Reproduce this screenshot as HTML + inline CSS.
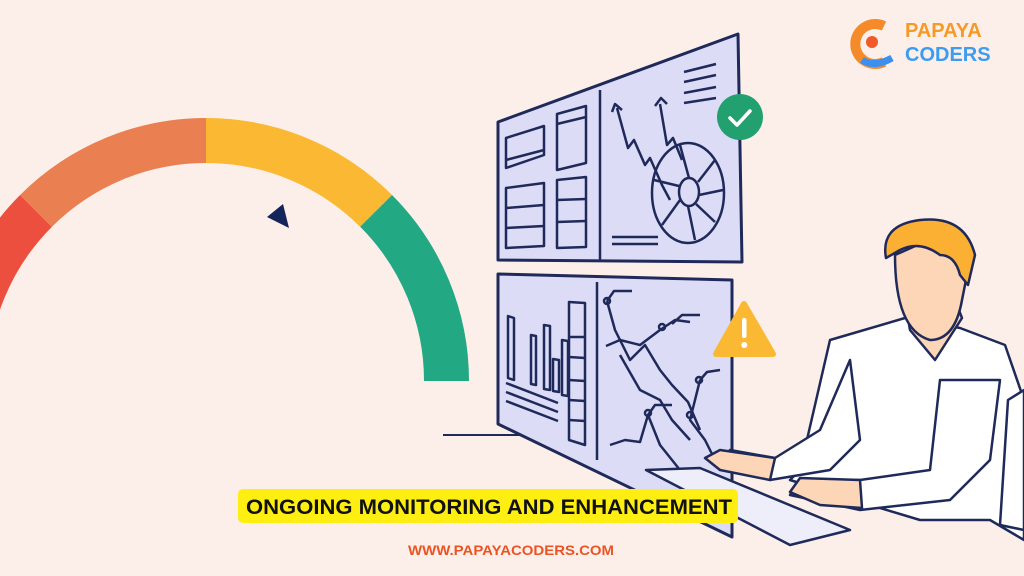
<!DOCTYPE html>
<html><head><meta charset="utf-8"><style>
html,body{margin:0;padding:0;background:#fcefea;}
svg{display:block}
</style></head><body>
<svg width="1024" height="576" viewBox="0 0 1024 576" xmlns="http://www.w3.org/2000/svg">
<rect width="1024" height="576" fill="#fcefea"/>
<!-- gauge -->
<g fill="none" stroke-width="45">
<path d="M-34.5 381 A240.5 240.5 0 0 1 36 210.9" stroke="#ec4f3d"/>
<path d="M36 210.9 A240.5 240.5 0 0 1 206 140.5" stroke="#ea7f52"/>
<path d="M206 140.5 A240.5 240.5 0 0 1 376.1 210.9" stroke="#fbb833"/>
<path d="M376.1 210.9 A240.5 240.5 0 0 1 446.5 381" stroke="#23a884"/>
</g>
<polygon points="267,217 283,204 289,228" fill="#14245a"/>
<!-- line -->
<line x1="443" y1="435" x2="700" y2="435" stroke="#1f2a5a" stroke-width="2"/>
<g stroke="#1f2a5a" stroke-width="2.5" fill="none" stroke-linejoin="round">
<!-- top monitor -->
<polygon points="498,122 738,34 742,262 498,260" fill="#dcdcf7" stroke-width="3"/>
<line x1="600" y1="90" x2="600" y2="260"/>
<polygon points="506,138 544,126 544,155 506,168"/>
<line x1="506" y1="160" x2="544" y2="150"/>
<polygon points="557,114 586,106 586,163 557,170"/>
<line x1="557" y1="124" x2="586" y2="117"/>
<polygon points="506,188 544,183 544,246 506,248"/>
<line x1="506" y1="208" x2="544" y2="205"/><line x1="506" y1="228" x2="544" y2="226"/>
<polygon points="557,180 586,177 586,247 557,248"/>
<line x1="557" y1="200" x2="586" y2="199"/><line x1="557" y1="222" x2="586" y2="221"/>
<polyline points="617,108 628,148 634,140 645,165 650,158 662,185 670,200"/>
<polyline points="612,112 615,104 622,110"/>
<polyline points="660,104 667,145 673,138 682,160"/>
<polyline points="655,106 661,98 667,104"/>
<ellipse cx="688" cy="193" rx="36" ry="50"/>
<ellipse cx="689" cy="192" rx="10" ry="14"/>
<line x1="689" y1="178" x2="680" y2="145"/><line x1="698" y1="182" x2="715" y2="160"/>
<line x1="699" y1="195" x2="723" y2="190"/><line x1="696" y1="204" x2="715" y2="222"/>
<line x1="688" y1="206" x2="695" y2="240"/><line x1="680" y1="200" x2="662" y2="225"/>
<line x1="679" y1="186" x2="654" y2="180"/>
<line x1="612" y1="237" x2="658" y2="237"/><line x1="612" y1="244" x2="658" y2="244"/>
<line x1="684" y1="72" x2="716" y2="64"/><line x1="684" y1="82" x2="716" y2="75"/>
<line x1="684" y1="93" x2="716" y2="87"/><line x1="684" y1="103" x2="716" y2="98"/>
<!-- bottom monitor -->
<polygon points="498,274 732,280 732,537 498,424" fill="#dcdcf7" stroke-width="3"/>
<line x1="597" y1="282" x2="597" y2="460"/>
<polygon points="508,316 514,318 514,380 508,378"/>
<polygon points="531,335 536,336 536,385 531,384"/>
<polygon points="544,325 550,326 550,390 544,389"/>
<polygon points="553,359 559,360 559,392 553,391"/>
<polygon points="562,340 568,341 568,396 562,395"/>
<polygon points="569,302 585,303 585,445 569,440"/>
<line x1="569" y1="337" x2="585" y2="337"/><line x1="569" y1="357" x2="585" y2="358"/><line x1="569" y1="380" x2="585" y2="381"/><line x1="569" y1="400" x2="585" y2="401"/><line x1="569" y1="420" x2="585" y2="421"/>
<line x1="506" y1="383" x2="558" y2="403"/><line x1="506" y1="392" x2="558" y2="412"/><line x1="506" y1="401" x2="558" y2="421"/>
<polyline points="607,301 615,330 630,360 645,345 660,370 672,385 688,402 700,430"/>
<polyline points="607,301 614,291 632,291"/>
<polyline points="606,346 620,340 640,345 660,330 675,320 690,322"/>
<polyline points="672,324 682,315 700,315"/>
<polyline points="620,355 640,390 660,400 672,420 690,440"/>
<polyline points="700,380 707,372 720,370"/>
<polyline points="700,380 690,420 705,440 715,460"/>
<polyline points="610,445 625,440 640,442 648,415 660,445 680,470 700,490"/>
<polyline points="648,415 655,405 672,405"/>
<circle cx="607" cy="301" r="3"/><circle cx="662" cy="327" r="3"/><circle cx="699" cy="380" r="3"/><circle cx="690" cy="415" r="3"/><circle cx="648" cy="413" r="3"/>
<!-- keyboard -->
<polygon points="646,470 700,468 850,530 790,545" fill="#eeeefb"/>
</g>
<!-- check badge -->
<circle cx="740" cy="117" r="23" fill="#23a06f"/>
<polyline points="730,118 737,125 750,111" fill="none" stroke="#fff" stroke-width="3.5" stroke-linecap="round" stroke-linejoin="round"/>
<!-- warning -->
<polygon points="744,304 773,354 716,354" fill="#fbb833" stroke="#fbb833" stroke-width="6" stroke-linejoin="round"/>
<rect x="742" y="318" width="4.5" height="20" rx="2" fill="#fff"/>
<circle cx="744.3" cy="345" r="3" fill="#fff"/>
<!-- person -->
<g stroke="#1f2a5a" stroke-width="2.5" stroke-linejoin="round">
<path d="M800 470 L830 340 L905 318 L960 328 L1005 345 L1024 400 L1024 540 L990 520 L920 520 L870 505 L790 480 Z" fill="#ffffff"/>
<path d="M905 300 L910 330 L935 360 L962 318 L955 300 Z" fill="#fcd6b6"/>
<path d="M895 255 Q895 330 930 340 Q955 340 962 300 L968 270 L940 235 Z" fill="#fcd6b6"/>
<path d="M886 258 Q880 225 920 220 Q965 215 975 255 L968 285 L960 275 Q955 255 940 255 Q920 240 900 250 Z" fill="#fbb034"/>
<path d="M850 360 L820 430 L775 458 L730 450 L720 462 L770 480 L830 470 L860 440 Z" fill="#ffffff"/>
<path d="M720 450 L705 458 L720 470 L770 480 L775 458 Z" fill="#fcd6b6"/>
<path d="M940 380 L930 470 L860 480 L800 480 L790 495 L860 510 L950 500 L990 460 L1000 380 Z" fill="#ffffff"/>
<path d="M860 480 L800 478 L790 492 L820 505 L862 508 Z" fill="#fcd6b6"/>
<path d="M1008 400 L1024 390 L1024 530 L1000 525 Z" fill="#fff"/>
</g>
<!-- title -->
<rect x="238" y="489" width="500" height="34" rx="5" fill="#ffee12"/>
<text x="246" y="514" font-family="Liberation Sans, sans-serif" font-weight="bold" font-size="21" textLength="486" lengthAdjust="spacingAndGlyphs" fill="#111">ONGOING MONITORING AND ENHANCEMENT</text>
<text x="408" y="555" font-family="Liberation Sans, sans-serif" font-weight="bold" font-size="14" textLength="206" lengthAdjust="spacingAndGlyphs" fill="#ea5424">WWW.PAPAYACODERS.COM</text>
<!-- logo -->
<path d="M884 26 A20 20 0 1 0 884 62" fill="none" stroke="#f58a2a" stroke-width="10"/>
<path d="M862 60 Q874 68 892 58" fill="none" stroke="#3b8ff0" stroke-width="7"/>
<circle cx="872" cy="42" r="6" fill="#f05a28"/>
<text x="905" y="37" font-family="Liberation Sans, sans-serif" font-weight="bold" font-size="20" fill="#f59a26">PAPAYA</text>
<text x="905" y="61" font-family="Liberation Sans, sans-serif" font-weight="bold" font-size="20" fill="#3c9cf0">CODERS</text>
</svg>
</body></html>
